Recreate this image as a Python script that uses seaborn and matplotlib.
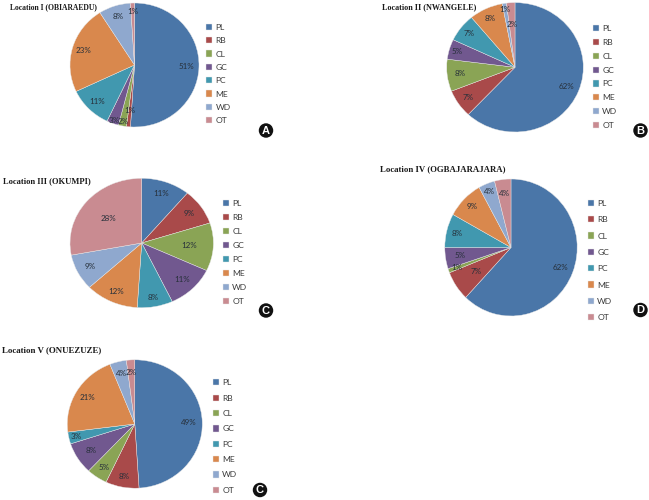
import matplotlib
matplotlib.use("Agg")
import matplotlib.pyplot as plt
import seaborn as sns

categories = ["PL", "RB", "CL", "GC", "PC", "ME", "WD", "OT"]

titles = [
    "Location I (OBIARAEDU)",
    "Location II (NWANGELE)",
    "Location III (OKUMPI)",
    "Location IV (OGBAJARAJARA)",
    "Location V (ONUEZUZE)",
]
badges = ["A", "B", "C", "D", "C"]

loc1 = [51, 1, 2, 3, 11, 23, 8, 1]
loc2 = [62, 7, 8, 5, 7, 8, 1, 2]
loc3 = [11, 9, 12, 11, 8, 12, 9, 28]
loc4 = [62, 7, 1, 5, 8, 9, 4, 4]
loc5 = [49, 8, 5, 8, 3, 21, 4, 2]
values = [loc1, loc2, loc3, loc4, loc5]

W, H = 649, 500

# pixel layout per panel
# cx, cy, rx, ry, legend x, legend y centre, row spacing, title x, title y, title size, badge x, badge y
layout = [
    (134.5, 65, 64.5, 62, 206, 74, 13.4, 10, 7, 5.5, 266, 130.5),
    (515, 67.3, 68.3, 64.7, 592.5, 77, 13.9, 382.5, 7, 5.9, 640.5, 130.5),
    (141.7, 243, 71.7, 64.7, 222.5, 252.5, 14, 3, 181.5, 6.1, 266, 310.5),
    (511, 247.5, 66.2, 68.5, 587.5, 260.5, 16.4, 379.5, 169.5, 6.3, 640.5, 310),
    (134.8, 424, 67.5, 64.2, 212.5, 436.5, 15.4, 2, 350.5, 6.4, 260, 490),
]

# how far out each percent label sits, as a fraction of the radius
label_radius = [
    [0.80, 0.74, 0.93, 0.95, 0.83, 0.83, 0.83, 0.87],
    [0.81, 0.83, 0.81, 0.89, 0.85, 0.84, 0.91, 0.67],
    [0.82, 0.80, 0.66, 0.80, 0.86, 0.83, 0.80, 0.60],
    [0.80, 0.63, 0.87, 0.78, 0.84, 0.84, 0.88, 0.80],
    [0.80, 0.84, 0.82, 0.76, 0.89, 0.81, 0.82, 0.81],
]

sns.set_theme(style="white")
plt.rcParams["font.family"] = ["Lato", "DejaVu Sans"]
palette = sns.color_palette(["#4A76A8", "#A94A4A", "#8AA455", "#71588F",
                             "#4198AF", "#D9884D", "#8FA8CE", "#C98B91"])

fig = plt.figure(figsize=(W / 100, H / 100), dpi=100, facecolor="white")

for vals, title, badge, lay, radii in zip(values, titles, badges, layout, label_radius):
    cx, cy, rx, ry, lx, ly, sp, tx, ty, tsize, bx, by = lay
    ax = fig.add_axes([(cx - rx) / W, 1 - (cy + ry) / H, 2 * rx / W, 2 * ry / H])
    wedges, _, autotexts = ax.pie(
        vals,
        colors=palette,
        startangle=90,
        counterclock=False,
        autopct="%.0f%%",
        pctdistance=1.0,
        radius=1,
        wedgeprops={"linewidth": 0.3, "edgecolor": "#e8e8e8", "clip_on": False},
        textprops={"fontsize": 5.8, "color": "#27303a"},
    )
    for txt, f in zip(autotexts, radii):
        x, y = txt.get_position()
        txt.set_position((x * f, y * f))
    ax.set_aspect("auto")
    ax.set_xlim(-1, 1)
    ax.set_ylim(-1, 1)

    fs = 6.1
    ax.legend(
        wedges, categories,
        loc="center left",
        bbox_to_anchor=(lx / W, 1 - ly / H),
        bbox_transform=fig.transFigure,
        frameon=False,
        fontsize=fs,
        labelcolor="#3a3a3a",
        handlelength=0.75,
        handleheight=0.75,
        handletextpad=0.4,
        borderpad=0,
        borderaxespad=0,
        labelspacing=(sp * 0.72 - 0.84 * fs) / fs,
    )

    fig.text(tx / W, 1 - ty / H, title, family="Liberation Serif", weight="bold",
             fontsize=tsize, color="#1a1a1a", ha="left", va="center")
    fig.text(bx / W, 1 - by / H, badge, family="Liberation Sans", weight="bold",
             fontsize=8, color="white", ha="center", va="center",
             bbox={"boxstyle": "circle,pad=0.2", "facecolor": "#111111", "edgecolor": "none"})

fig.savefig("out.png", dpi=100)
